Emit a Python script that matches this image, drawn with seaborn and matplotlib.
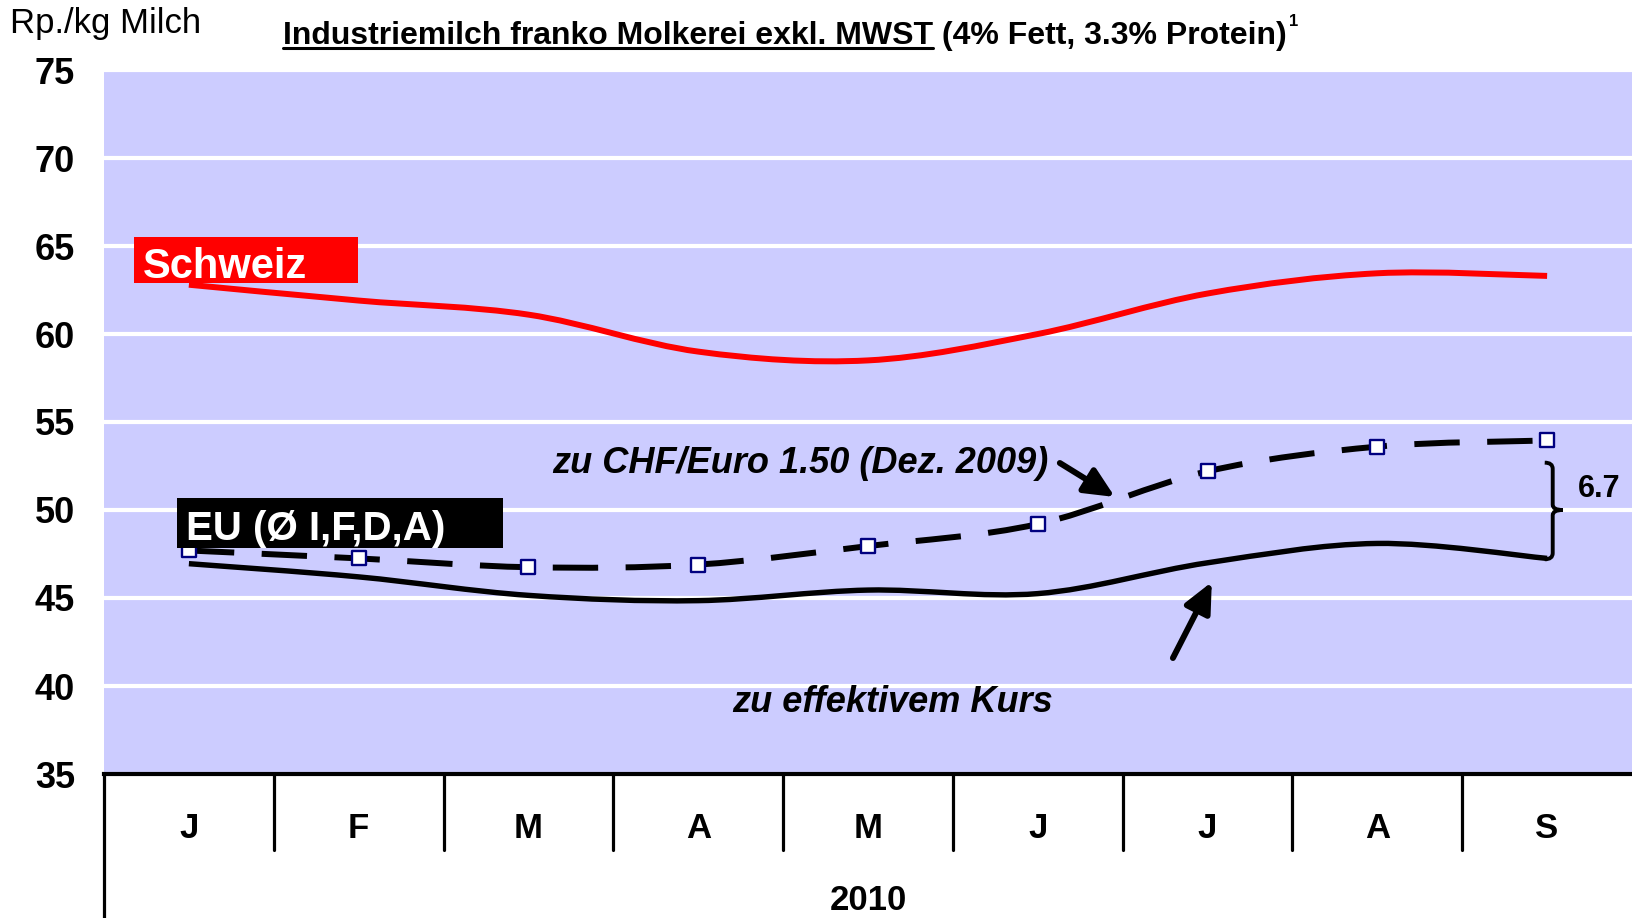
import numpy as np
import pandas as pd
import matplotlib
matplotlib.use("Agg")
import matplotlib.pyplot as plt
import seaborn as sns
from matplotlib.path import Path
from matplotlib.patches import PathPatch, Rectangle, FancyArrowPatch
from matplotlib.lines import Line2D

# ---- data (Rp./kg Milch, 2010) ----
months = ["J", "F", "M", "A", "M", "J", "J", "A", "S"]
schweiz = [62.8, 61.9, 61.1, 59.0, 58.5, 60.0, 62.3, 63.45, 63.3]
eu_chf150 = [47.7, 47.25, 46.75, 46.9, 47.95, 49.2, 52.2, 53.6, 53.95]
eu_effektiv = [46.95, 46.2, 45.15, 44.85, 45.45, 45.25, 47.0, 48.1, 47.25]
yticks = [35, 40, 45, 50, 55, 60, 65, 70, 75]
year = "2010"
gap_label = "6.7"

BG = "#CCCCFF"
NAVY = "#000080"

sns.set_style("white")
plt.rcParams["font.family"] = ["Liberation Sans", "DejaVu Sans"]
plt.rcParams["text.color"] = "black"
plt.rcParams["ytick.color"] = "black"
plt.rcParams["xtick.color"] = "black"
plt.rcParams["axes.labelcolor"] = "black"


def smooth_path(xs, ys):
    # Excel-like smoothed line: Catmull-Rom segments as cubic Bezier
    pts = np.column_stack([xs, ys]).astype(float)
    n = len(pts)
    verts = [pts[0]]
    codes = [Path.MOVETO]
    for i in range(n - 1):
        p0 = pts[max(i - 1, 0)]
        p1 = pts[i]
        p2 = pts[i + 1]
        p3 = pts[min(i + 2, n - 1)]
        c1 = p1 + (p2 - p0) / 6.0
        c2 = p2 - (p3 - p1) / 6.0
        verts += [c1, c2, p2]
        codes += [Path.CURVE4] * 3
    return Path(verts, codes)


fig = plt.figure(figsize=(16.32, 9.18), dpi=100)
ax = fig.add_axes([104 / 1632, 144 / 918, 1528 / 1632, 704 / 918])
ax.set_facecolor(BG)

x = np.arange(len(months))
df = pd.DataFrame({"x": x, "chf150": eu_chf150})

# lines
ax.add_patch(PathPatch(smooth_path(x, schweiz), fill=False, edgecolor="#FF0000",
                       lw=4.3, capstyle="butt", zorder=3))
ax.add_patch(PathPatch(smooth_path(x, eu_effektiv), fill=False, edgecolor="black",
                       lw=3.9, capstyle="butt", zorder=3))
ax.add_patch(PathPatch(smooth_path(x, eu_chf150), fill=False, edgecolor="black",
                       lw=4.3, linestyle=(0, (7.6, 4.6)), capstyle="butt", zorder=3))
sns.scatterplot(data=df, x="x", y="chf150", marker="s", s=95, color="white",
                edgecolor=NAVY, linewidth=1.7, zorder=4, ax=ax, legend=False)

# axes styling
ax.set_xlim(-0.5, len(months) - 0.5)
ax.set_ylim(35, 75)
ax.set_yticks(yticks)
ax.set_yticklabels([str(v) for v in yticks], fontsize=26, fontweight="bold")
ax.set_xticks([])
ax.set_xlabel("")
ax.set_ylabel("")
ax.tick_params(axis="y", length=0, pad=21, labelcolor="black")
ax.yaxis.grid(True, color="white", lw=3)
ax.set_axisbelow(True)
for side in ["top", "right", "left"]:
    ax.spines[side].set_visible(False)
ax.spines["bottom"].set_color("black")
ax.spines["bottom"].set_linewidth(3)
ax.spines["bottom"].set_zorder(5)

# category table under the axis
trans = ax.get_xaxis_transform()
for i in range(len(months)):
    b = i - 0.5
    bottom = -0.21 if i == 0 else -0.108
    ax.add_line(Line2D([b, b], [0, bottom], transform=trans, color="black",
                       lw=2.3, clip_on=False))
    ax.text(i, -0.077, months[i], transform=trans, ha="center", va="center",
            fontsize=25, fontweight="bold")
ax.text(4, -0.179, year, transform=trans, ha="center", va="center",
        fontsize=25, fontweight="bold")

# series labels
ax.add_patch(Rectangle((-0.323, 62.88), 1.319, 2.65, facecolor="#FF0000",
                       edgecolor="none", zorder=6))
ax.text(-0.27, 63.18, "Schweiz", color="white", fontsize=30, fontweight="bold",
        va="baseline", ha="left", zorder=7)
ax.add_patch(Rectangle((-0.07, 47.84), 1.92, 2.84, facecolor="black",
                       edgecolor="none", zorder=6))
ax.text(-0.017, 48.3, "EU (Ø I,F,D,A)", color="white", fontsize=29,
        fontweight="bold", va="baseline", ha="left", zorder=7)

# annotations
ax.text(2.138, 52.67, "zu CHF/Euro 1.50 (Dez. 2009)", fontsize=26,
        fontweight="bold", style="italic", va="center", ha="left", zorder=7)
ax.text(3.198, 39.06, "zu effektivem Kurs", fontsize=26,
        fontweight="bold", style="italic", va="center", ha="left", zorder=7)
for (x0, y0), (x1, y1) in [((5.13, 52.67), (5.454, 50.74)),
                           ((5.796, 41.59), (6.025, 45.91))]:
    ax.add_patch(FancyArrowPatch((x0, y0), (x1, y1),
                                 arrowstyle="-|>,head_length=0.9,head_width=0.42",
                                 mutation_scale=20, lw=4.3, color="black",
                                 shrinkA=0, shrinkB=0, zorder=7))

# brace showing the gap at September
bx0, bstem, btip = 7.986, 8.033, 8.092
btop, bmid, bbot = 52.69, 50.0, 47.2
brace = Path([(bx0, btop), (bstem, btop), (bstem, btop - 0.35),
              (bstem, bmid + 0.3),
              (bstem, bmid), (btip, bmid),
              (bstem, bmid), (bstem, bmid - 0.3),
              (bstem, bbot + 0.35),
              (bstem, bbot), (bx0, bbot)],
             [Path.MOVETO, Path.CURVE3, Path.CURVE3,
              Path.LINETO,
              Path.CURVE3, Path.CURVE3,
              Path.CURVE3, Path.CURVE3,
              Path.LINETO,
              Path.CURVE3, Path.CURVE3])
ax.add_patch(PathPatch(brace, fill=False, edgecolor="black", lw=2.8, zorder=7))
ax.text(8.18, 51.19, gap_label, fontsize=22, fontweight="bold",
        va="center", ha="left", zorder=7)

# header texts
fig.text(10 / 1632, 1 - 23 / 918, "Rp./kg Milch", fontsize=25, va="center", ha="left")
t1 = fig.text(283 / 1632, 1 - 44 / 918, "Industriemilch franko Molkerei exkl. MWST",
              fontsize=23, fontweight="bold", va="baseline", ha="left")
fig.canvas.draw()
renderer = fig.canvas.get_renderer()
bb1 = t1.get_window_extent(renderer)
inv = fig.transFigure.inverted()
xa = inv.transform((bb1.x0, 0))[0]
xb = inv.transform((bb1.x1, 0))[0]
fig.add_artist(Line2D([xa, xb], [1 - 47.5 / 918, 1 - 47.5 / 918],
                      transform=fig.transFigure, color="black", lw=2.2))
t2 = fig.text(xb, 1 - 44 / 918, " (4% Fett, 3.3% Protein)", fontsize=23,
              fontweight="bold", va="baseline", ha="left")
bb2 = t2.get_window_extent(renderer)
xc = inv.transform((bb2.x1 + 2, 0))[0]
fig.text(xc, 1 - 26 / 918, "1", fontsize=12, fontweight="bold",
         va="baseline", ha="left")

fig.savefig("out.png", dpi=100, facecolor="white")
